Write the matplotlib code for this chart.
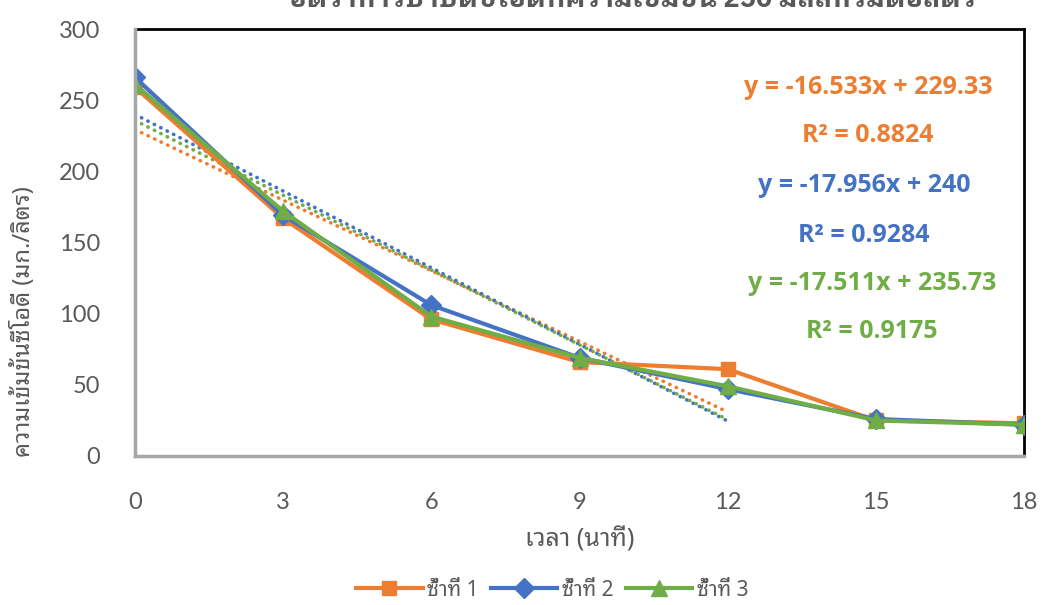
import matplotlib
matplotlib.use("Agg")
import numpy as np
import matplotlib.pyplot as plt
from matplotlib.lines import Line2D

THAI = ['Noto Sans Thai Looped', 'DejaVu Sans']
THAI_BOLD = ['IBM Plex Sans Thai Looped', 'Noto Sans Thai Looped', 'DejaVu Sans']
NUM = ['Lato', 'DejaVu Sans']
EQ = ['Open Sans', 'DejaVu Sans']
plt.rcParams['font.family'] = THAI

# Sampling times (minutes) and COD concentrations (mg/L) for three replicates
time_min = [0, 3, 6, 9, 12, 15, 18]
rep1 = [259, 167, 96, 66, 61, 25, 23]
rep2 = [266, 169, 106, 69, 47, 26, 22]
rep3 = [261, 172, 98, 69, 49, 25, 22]

# Linear trendlines fitted over the first 12 minutes
trend_slope = [-16.533, -17.956, -17.511]
trend_intercept = [229.33, 240, 235.73]
trend_r2 = [0.8824, 0.9284, 0.9175]
trend_range = [0, 12]

series_names = ["ซ้ำที่ 1", "ซ้ำที่ 2", "ซ้ำที่ 3"]
title_text = "อัตราการบำบัดซีโอดีที่ความเข้มข้น 250 มิลลิกรัมต่อลิตร"
x_label = "เวลา (นาที)"
y_label = "ความเข้มข้นซีโอดี (มก./ลิตร)"

colors = ["#ED7D31", "#4472C4", "#70AD47"]
markers = ["s", "D", "^"]
msizes = [10, 10, 11]
grey = "#595959"

W, H = 1042, 605
fig = plt.figure(figsize=(W / 100, H / 100), dpi=100)
L, R, T, B = 135, 1024, 29, 456
ax = fig.add_axes([L / W, 1 - B / H, (R - L) / W, (B - T) / H])

for vals, c, m, ms in zip([rep1, rep2, rep3], colors, markers, msizes):
    ax.plot(time_min, vals, color=c, lw=3, marker=m, markersize=ms,
            markerfacecolor=c, markeredgecolor=c, zorder=3)

# Dotted linear trendlines
xt = np.array(trend_range, dtype=float)
for k, c in enumerate(colors):
    ax.plot(xt, trend_slope[k] * xt + trend_intercept[k], color=c, lw=2.6,
            linestyle=(0, (0.1, 1.9)), dash_capstyle='round', zorder=2)

ax.set_xlim(0, 18)
ax.set_ylim(0, 300)
ax.set_xticks(time_min)
ax.set_yticks(range(0, 301, 50))
ax.tick_params(axis='both', length=0, labelsize=17, labelcolor=grey)
ax.tick_params(axis='x', pad=26)
ax.tick_params(axis='y', pad=25)
for lab in ax.get_xticklabels() + ax.get_yticklabels():
    lab.set_family(NUM)

for side in ("top", "right"):
    ax.spines[side].set_color("black")
    ax.spines[side].set_linewidth(2)
for side in ("left", "bottom"):
    ax.spines[side].set_color("#A6A6A6")
    ax.spines[side].set_linewidth(2.5)
    ax.spines[side].set_zorder(4)

ax.set_xlabel(x_label, fontsize=18, color=grey)
ax.set_ylabel(y_label, fontsize=17, color=grey)
ax.xaxis.set_label_coords((580 - L) / (R - L), -(527 - B) / (B - T))
ax.yaxis.set_label_coords(-(L - 36) / (R - L), (B - 322) / (B - T))

# Trendline equations and R-squared values
eq_pos = [(868, 87, 136), (864, 186, 236), (872, 283, 331)]
for k, c in enumerate(colors):
    px, py_eq, py_r2 = eq_pos[k]
    fig.text(px / W, 1 - py_eq / H,
             "y = %.3fx + %g" % (trend_slope[k], trend_intercept[k]),
             color=c, fontsize=18, fontweight='bold', family=EQ,
             ha='center', va='center')
    fig.text(px / W, 1 - py_r2 / H, "R² = %.4f" % trend_r2[k],
             color=c, fontsize=18, fontweight='bold', family=EQ,
             ha='center', va='center')

fig.text(632 / W, 1 - 7 / H, title_text, fontsize=19.5, fontweight='bold',
         family=THAI_BOLD, color=grey, ha='center', va='baseline')

handles = [Line2D([0], [0], color=c, lw=3, marker=m, markersize=ms,
                  markerfacecolor=c, markeredgecolor=c)
           for c, m, ms in zip(colors, markers, msizes)]
fig.legend(handles, series_names, loc='center', ncol=3,
           bbox_to_anchor=(552 / W, 1 - 590 / H), frameon=False,
           fontsize=15, handlelength=3.2, handletextpad=0.2, columnspacing=0.6,
           labelcolor=grey)

fig.savefig("out.png", dpi=100)
